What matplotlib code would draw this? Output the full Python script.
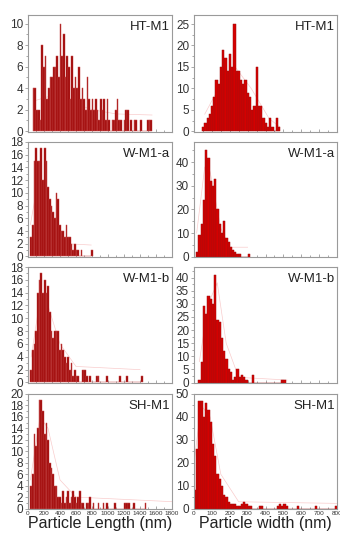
import numpy as np
import matplotlib
matplotlib.use("Agg")
import matplotlib.pyplot as plt
from matplotlib.ticker import MultipleLocator

plt.rcParams['font.family'] = ['Liberation Sans', 'DejaVu Sans']

# sample names per row
names = ["HT-M1", "W-M1-a", "W-M1-b", "SH-M1"]

# particle length histograms (counts per bin), bins of 21 nm
len_start = [60, 30, 30, 30]
len_bin = 21
ht_len = [4, 4, 2, 2, 1, 8, 6, 7, 3, 4, 5, 5, 6, 6, 7, 5, 10, 7, 9, 5, 7, 6, 3, 7, 4, 5, 4, 6, 3, 4,
          3, 2, 5, 3, 2, 3, 2, 3, 2, 1, 3, 2, 3, 1, 3, 1, 0, 1, 1, 2, 3, 1, 1, 0, 1, 2, 2, 0, 1, 0,
          1, 1, 0, 0, 1, 0, 0, 0, 1, 1, 1]
wa_len = [3, 5, 15, 17, 15, 15, 17, 12, 17, 15, 11, 9, 8, 7, 6, 10, 9, 5, 4, 4, 3, 5, 3, 3, 2, 1,
          2, 1, 1, 0, 1, 0, 0, 0, 0, 0, 1]
wb_len = [2, 5, 6, 8, 14, 16, 17, 14, 16, 14, 15, 11, 8, 7, 8, 8, 8, 5, 6, 5, 4, 3, 4, 2, 3, 1,
          2, 1, 1, 0, 0, 2, 2, 1, 0, 1, 0, 0, 0, 1, 1, 0, 0, 0, 0, 1, 0, 0, 0, 0, 0, 0, 0, 1, 0,
          0, 0, 1, 0, 0, 0, 0, 0, 0, 0, 0, 1]
sh_len = [4, 6, 13, 11, 14, 19, 19, 17, 13, 15, 12, 8, 7, 6, 4, 4, 2, 2, 1, 3, 1, 2, 3, 1, 2, 3,
          2, 1, 2, 3, 1, 1, 0, 1, 1, 2, 0, 1, 0, 0, 1, 0, 0, 1, 0, 1, 0, 0, 0, 0, 1, 0, 0, 0, 0,
          0, 1, 1, 1, 0, 0, 1, 0, 0, 0, 0, 0, 0, 1]

# particle width histograms, bins of 12.5 nm
wid_start = [45, 12.5, 25, 0]
wid_bin = 12.5
ht_wid = [1, 2, 3, 4, 6, 8, 12, 11, 15, 19, 17, 14, 18, 15, 25, 14, 14, 12, 11, 12, 9, 8, 5, 6,
          15, 6, 6, 3, 2, 1, 3, 1, 0, 3, 1]
wa_wid = [2, 9, 14, 24, 45, 42, 32, 30, 33, 20, 14, 10, 15, 8, 6, 4, 3, 2, 1, 1, 0, 0, 0, 1]
wb_wid = [1, 8, 29, 26, 33, 32, 30, 41, 24, 23, 17, 12, 9, 5, 4, 1, 2, 5, 2, 3, 2, 1, 0, 0, 3,
          0, 0, 0, 0, 0, 0, 0, 0, 0, 0, 0, 0, 1, 1]
sh_wid = [8, 26, 47, 47, 40, 46, 43, 38, 28, 23, 15, 13, 10, 6, 5, 3, 2, 2, 2, 1, 1, 2, 3, 2, 1,
          1, 0, 0, 0, 1, 1, 0, 0, 0, 0, 0, 0, 1, 2, 1, 2, 1, 0, 0, 0, 0, 1, 0, 0, 0, 0, 0, 0, 0,
          1, 0, 0, 0, 0, 0, 0, 0, 0, 1]

# faint fit curves
len_fit_x = [[70, 250, 500, 800, 1100, 1550], [30, 100, 200, 350, 500, 790],
             [40, 150, 250, 400, 600, 1400], [30, 150, 250, 400, 600, 1800]]
len_fit_y = [[2.8, 3.2, 2.8, 2.0, 1.6, 1.5], [5, 10, 8, 4, 2, 1.8],
             [4, 13, 12, 6, 2.5, 2], [5, 16, 14, 5, 2, 1.2]]
wid_fit_x = [[60, 150, 230, 320, 420, 480], [15, 60, 90, 150, 200, 300],
             [30, 80, 130, 180, 250, 520], [0, 40, 90, 150, 250, 800]]
wid_fit_y = [[4, 11, 15, 10, 3, 1], [10, 38, 36, 12, 4, 4],
             [8, 30, 38, 15, 2, 1], [20, 45, 40, 15, 3, 2.3]]

len_data = [ht_len, wa_len, wb_len, sh_len]
wid_data = [ht_wid, wa_wid, wb_wid, sh_wid]

len_ylim = [10.8, 18, 18, 20]
len_ystep = [2, 2, 2, 2]
wid_ylim = [27.1, 48.6, 44, 50]
wid_ystep = [5, 10, 5, 10]

W, H = 340, 534
rows = [(15, 132), (142, 257), (267, 383), (394, 509)]
cols = [(28, 172), (194, 337)]

fig = plt.figure(figsize=(W / 100, H / 100), dpi=100)
grey = '#9a9a9a'


def panel(r, c):
    (y0, y1), (x0, x1) = rows[r], cols[c]
    ax = fig.add_axes([x0 / W, 1 - y1 / H, (x1 - x0) / W, (y1 - y0) / H])
    for s in ax.spines.values():
        s.set_color(grey)
        s.set_linewidth(0.8)
    ax.tick_params(axis='x', which='both', direction='in', color=grey, length=2.5, width=0.6,
                   labelsize=4.6, pad=1.5, labelcolor='#333333')
    ax.tick_params(axis='x', which='minor', length=1.5)
    ax.tick_params(axis='y', which='both', direction='out', color=grey, length=2.5, width=0.6,
                   labelsize=8.5, pad=1, labelcolor='#333333')
    ax.tick_params(axis='y', which='minor', length=1.5)
    ax.text(0.985, 0.95, names[r], transform=ax.transAxes, ha='right', va='top',
            fontsize=9.5, color='#222222')
    if r < 3:
        ax.tick_params(axis='x', labelbottom=False)
    return ax


for r in range(4):
    # length
    ax = panel(r, 0)
    h = np.array(len_data[r])
    x = len_start[r] + len_bin * np.arange(len(h)) + len_bin / 2
    ax.plot(len_fit_x[r], len_fit_y[r], color='#f9cccc', lw=0.5, zorder=1)
    ax.bar(x, h, width=len_bin, facecolor='#9c0000', edgecolor='#c85050', linewidth=0.35, zorder=2)
    ax.set_xlim(0, 1800)
    ax.set_ylim(-0.08, len_ylim[r])
    ax.xaxis.set_major_locator(MultipleLocator(200))
    ax.xaxis.set_minor_locator(MultipleLocator(100))
    ax.yaxis.set_major_locator(MultipleLocator(len_ystep[r]))
    ax.yaxis.set_minor_locator(MultipleLocator(len_ystep[r] / 2))
    if r == 3:
        ax.set_xlabel("Particle Length (nm)", fontsize=11.5, labelpad=0, color='#222222')

    # width
    ax = panel(r, 1)
    h = np.array(wid_data[r])
    x = wid_start[r] + wid_bin * np.arange(len(h)) + wid_bin / 2
    ax.plot(wid_fit_x[r], wid_fit_y[r], color='#f9cccc', lw=0.5, zorder=1)
    ax.bar(x, h, width=wid_bin, facecolor='#d40000', edgecolor='#a01010', linewidth=0.35, zorder=2)
    ax.set_xlim(0, 800)
    ax.set_ylim(-0.15, wid_ylim[r])
    ax.xaxis.set_major_locator(MultipleLocator(100))
    ax.xaxis.set_minor_locator(MultipleLocator(50))
    ax.yaxis.set_major_locator(MultipleLocator(wid_ystep[r]))
    ax.yaxis.set_minor_locator(MultipleLocator(wid_ystep[r] / 2))
    if r == 3:
        ax.set_xlabel("Particle width (nm)", fontsize=11.5, labelpad=0, color='#222222')

fig.savefig("out.png", dpi=100)
